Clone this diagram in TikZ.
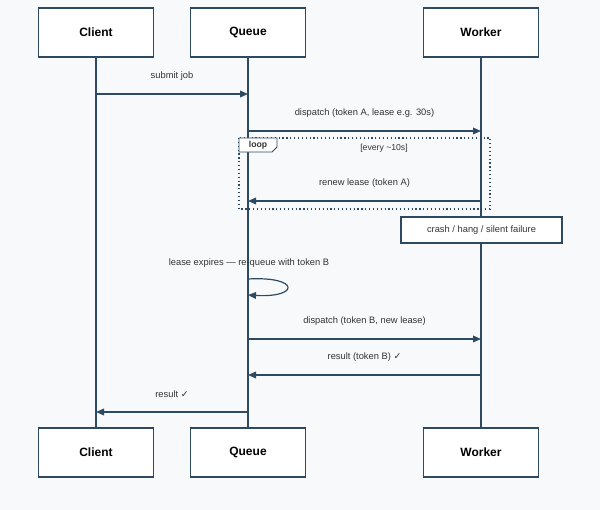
\documentclass[tikz,border=0pt]{standalone}
\usepackage{fontspec}
\setmainfont{Liberation Sans}
\newfontfamily\symf{DejaVu Sans}
\usetikzlibrary{arrows.meta}
\definecolor{ln}{HTML}{2E4A62}
\definecolor{tx}{HTML}{333333}
\definecolor{bg}{HTML}{F8F9FB}
\begin{document}
\begin{tikzpicture}[x=0.75pt,y=-0.75pt,
 actor/.style={draw=ln,fill=white,line width=0.9pt,minimum width=86pt,minimum height=36.75pt,inner sep=0pt,font=\fontsize{9}{10}\selectfont\bfseries,text=black},
 life/.style={draw=ln,line width=1pt},
 msg/.style={draw=ln,line width=0.9pt,-{Triangle[length=6pt,width=5pt]}},
 lbl/.style={font=\fontsize{7}{8}\selectfont,text=tx,inner sep=0pt}]
\fill[bg] (0,0) rectangle (600,510);
\useasboundingbox (0,0) rectangle (600,510);
\foreach \n/\x/\t in {c/96/Client,q/248/Queue,w/481/Worker}{
 \node[actor] (\n t) at (\x,32.5) {\t};
 \node[actor] (\n b) at (\x,452.5) {\t};
 \draw[life] (\n t) -- (\n b);
}
% coordinates on lifelines
\foreach \n/\x in {c/96,q/248,w/481}{
 \foreach \y in {94,131,201,339,375,412}{\coordinate (\n\y) at (\x,\y);}
}
\draw[msg] (c94) -- (q94) node[lbl,midway,above=10pt] {submit job};
\draw[msg] (q131) -- (w131) node[lbl,midway,above=10pt] {dispatch (token A, lease e.g. 30s)};
% loop frame
\coordinate (lf1) at (239,138); \coordinate (lf2) at (490,209);
\draw[ln,line width=0.9pt,dotted] (lf1) rectangle (lf2);
\draw[ln,line width=0.7pt,fill=white] (239,138) -- (277,138) -- (277,147) -- (272,152) -- (239,152) -- cycle;
\node[lbl,font=\fontsize{6.5}{7}\selectfont\bfseries] (lp) at (258,145.5) {loop};
\node[lbl,font=\fontsize{6.5}{7}\selectfont] (ev) at (384,148) {[every \textasciitilde10s]};
\draw[msg] (w201) -- (q201) node[lbl,midway,above=10pt] {renew lease (token A)};
\node[draw=ln,fill=white,line width=0.9pt,minimum width=120.75pt,minimum height=19.5pt,lbl,inner sep=0pt] (cr) at (481.5,230) {crash / hang / silent failure};
\node[lbl] (le) at (249,263) {lease expires — re-queue with token B};
\coordinate (s1) at (248,279); \coordinate (s2) at (248,295);
\draw[msg] (s1) .. controls (300,276) and (300,298) .. (s2);
\draw[msg] (q339) -- (w339) node[lbl,midway,above=10pt] {dispatch (token B, new lease)};
\draw[msg] (w375) -- (q375) node[lbl,midway,above=10pt] {result (token B) {\symf ✓}};
\draw[msg] (q412) -- (c412) node[lbl,pos=0.5,above=10pt] {result {\symf ✓}};
\end{tikzpicture}
\end{document}
